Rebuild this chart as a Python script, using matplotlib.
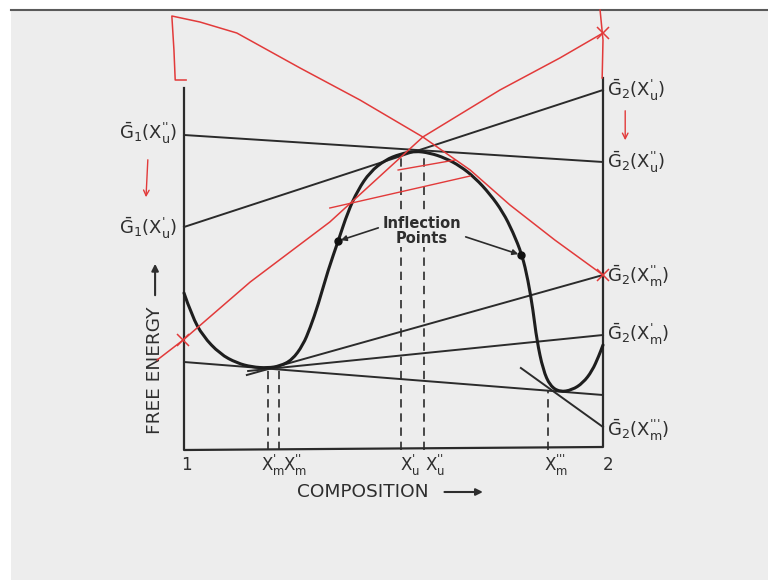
import matplotlib.pyplot as plt
from matplotlib.patches import Rectangle, PathPatch
from matplotlib.lines import Line2D
from matplotlib.path import Path

plt.rcParams['mathtext.fontset'] = 'dejavusans'
plt.rcParams['mathtext.default'] = 'regular'

# free energy curve (composition 1..2, arbitrary energy units)
comp = [1.000, 1.019, 1.045, 1.086, 1.126, 1.162, 1.200, 1.229, 1.258, 1.284,
        1.301, 1.320, 1.344, 1.368, 1.391, 1.415, 1.444, 1.480, 1.516, 1.551,
        1.587, 1.623, 1.659, 1.695, 1.730, 1.761, 1.785, 1.807, 1.821, 1.833,
        1.842, 1.857, 1.874, 1.897, 1.926, 1.952, 1.974, 1.990, 2.000]
energy = [15.7, 13.4, 11.4, 9.6, 8.7, 8.3, 8.2, 8.4, 9.0, 10.5,
          12.2, 14.5, 18.0, 20.9, 23.8, 26.0, 27.8, 29.0, 29.6, 29.9,
          29.7, 29.2, 28.4, 27.2, 25.6, 23.8, 21.8, 19.5, 17.0, 14.0,
          11.0, 8.0, 6.4, 5.8, 6.0, 6.7, 7.9, 9.4, 10.5]

# tangent lines: (x0, g0, x1, g1)
tangents = [
    (1.000, 31.5, 2.000, 28.8),   # G1(X''u) -> G2(X''u)
    (1.000, 22.3, 2.000, 36.0),   # G1(X'u)  -> G2(X'u)
    (1.000, 8.8, 2.000, 5.5),     # common tangent
    (1.153, 7.9, 2.000, 11.5),    # -> G2(X'm)
    (1.150, 7.5, 2.000, 17.5),    # -> G2(X''m)
    (1.804, 8.2, 2.000, 2.3),     # -> G2(X'''m)
]

# dashed drop lines: (composition, height)
drops = [(1.200, 8.2), (1.227, 8.4), (1.518, 29.6), (1.573, 29.9), (1.869, 6.0)]

inflections_x = [1.368, 1.804]
inflections_g = [20.9, 19.5]

P1, P2, P3 = r"\text{'}", r"\text{''}", r"\text{'''}"
left_labels = [r'$\bar{G}_1(X^{%s}_u)$' % P2, r'$\bar{G}_1(X^{%s}_u)$' % P1]
left_label_g = [31.7, 22.2]
right_labels = [r'$\bar{G}_2(X^{%s}_u)$' % P1, r'$\bar{G}_2(X^{%s}_u)$' % P2,
                r'$\bar{G}_2(X^{%s}_m)$' % P2, r'$\bar{G}_2(X^{%s}_m)$' % P1,
                r'$\bar{G}_2(X^{%s}_m)$' % P3]
right_label_g = [36.0, 28.8, 17.4, 11.6, 2.0]
tick_labels = ['1', r'$X^{%s}_m$' % P1, r'$X^{%s}_m$' % P2, r'$X^{%s}_u$' % P1,
               r'$X^{%s}_u$' % P2, r'$X^{%s}_m$' % P3, '2']
tick_x = [1.007, 1.212, 1.265, 1.539, 1.599, 1.888, 2.012]

# red pen annotations
red1_x = [1.005, 0.979, 0.976, 0.971, 1.038, 1.126, 1.277, 1.420, 1.570, 1.683, 1.778, 1.885, 2.000]
red1_g = [37.0, 37.0, 40.0, 43.4, 42.8, 41.7, 38.2, 35.0, 31.3, 28.0, 24.5, 21.0, 17.5]
red2_x = [0.936, 0.998, 1.158, 1.348, 1.570, 1.754, 1.897, 2.000]
red2_g = [9.0, 11.0, 16.8, 22.8, 31.3, 36.0, 39.2, 41.7]
red3_x = [1.993, 2.000, 1.998]
red3_g = [44.0, 41.0, 37.2]
red_marks_x = [2.000, 2.000, 0.998]
red_marks_g = [41.7, 17.5, 11.0]
red_short = [(1.348, 24.2, 1.683, 27.4), (1.511, 28.0, 1.647, 29.0)]

ink = '#2b2b2b'
txt = '#2e2e2e'
red = '#e23a3a'
bg = '#ededed'


def smooth_path(xs, ys):
    # quadratic bezier through the midpoints of the read-off points
    pts = list(zip(xs, ys))
    verts = [pts[0]]
    codes = [Path.MOVETO]
    for i in range(1, len(pts) - 1):
        mid = ((pts[i][0] + pts[i + 1][0]) / 2, (pts[i][1] + pts[i + 1][1]) / 2)
        verts += [pts[i], mid]
        codes += [Path.CURVE3, Path.CURVE3]
    verts.append(pts[-1])
    codes.append(Path.LINETO)
    return Path(verts, codes)


fig = plt.figure(figsize=(7.68, 5.8), dpi=100)
fig.patch.set_facecolor('white')
ax = fig.add_axes([0, 0, 1, 1])
ax.set_xlim(1 - 184 / 419, 1 + 584 / 419)
ax.set_ylim(-13, 45)
ax.axis('off')

ax.add_patch(Rectangle((11 / 768, 0), 1, 1 - 10 / 580, transform=ax.transAxes,
                       facecolor=bg, edgecolor='none', zorder=0))
ax.add_line(Line2D([11 / 768, 1], [1 - 10 / 580] * 2, transform=ax.transAxes,
                   color='#5a5a5a', lw=1.5, zorder=1))

# frame of the sketch
ax.plot([1, 1, 2, 2], [36.2, 0, 0.3, 37.2], color=ink, lw=1.6, zorder=3)

for x, g in drops:
    ax.plot([x, x], [0, g], color=ink, lw=1.2, ls=(0, (5, 3.5)), zorder=2)

for x0, g0, x1, g1 in tangents:
    ax.plot([x0, x1], [g0, g1], color=ink, lw=1.4, zorder=3)

ax.add_patch(PathPatch(smooth_path(comp, energy), fill=False, edgecolor='#1e1e1e',
                       lw=2.2, zorder=4, capstyle='round'))
ax.plot(inflections_x, inflections_g, 'o', color='#111111', ms=5, zorder=5)

ax.text(1.568, 21.9, 'Inflection\nPoints', ha='center', va='center', fontsize=10.5,
        fontweight='bold', color=txt, linespacing=1.0, zorder=6,
        bbox=dict(facecolor=bg, edgecolor='none', pad=1))
ax.annotate('', xy=(inflections_x[0], inflections_g[0]), xytext=(1.470, 22.3),
            arrowprops=dict(arrowstyle='-|>', color=ink, lw=1.2, mutation_scale=8), zorder=5)
ax.annotate('', xy=(inflections_x[1], inflections_g[1]), xytext=(1.666, 21.4),
            arrowprops=dict(arrowstyle='-|>', color=ink, lw=1.2, mutation_scale=8), zorder=5)

for lab, g in zip(left_labels, left_label_g):
    ax.text(0.983, g, lab, ha='right', va='center', fontsize=13, color=txt)
for lab, g in zip(right_labels, right_label_g):
    ax.text(2.010, g, lab, ha='left', va='center', fontsize=13, color=txt)
for lab, x in zip(tick_labels, tick_x):
    ax.text(x, -1.5, lab, ha='center', va='center', fontsize=12, color=txt)

ax.text(1.427, -4.2, 'COMPOSITION', ha='center', va='center', fontsize=13.3, color=txt)
ax.annotate('', xy=(1.720, -4.2), xytext=(1.615, -4.2),
            arrowprops=dict(arrowstyle='-|>', color=txt, lw=1.5, mutation_scale=10))
ax.text(0.931, 8.0, 'FREE ENERGY', ha='center', va='center', rotation=90,
        fontsize=13.3, color=txt)
ax.annotate('', xy=(0.931, 18.9), xytext=(0.931, 15.2),
            arrowprops=dict(arrowstyle='-|>', color=txt, lw=1.5, mutation_scale=10))

# red pen strokes
ax.plot(red1_x, red1_g, color=red, lw=1.1, zorder=7)
ax.plot(red2_x, red2_g, color=red, lw=1.1, zorder=7)
ax.plot(red3_x, red3_g, color=red, lw=1.1, zorder=7)
ax.plot(red_marks_x, red_marks_g, 'x', color=red, ms=9, mew=1.1, zorder=7)
for x0, g0, x1, g1 in red_short:
    ax.plot([x0, x1], [g0, g1], color=red, lw=1.0, zorder=7)
ax.annotate('', xy=(0.909, 25.0), xytext=(0.914, 29.3),
            arrowprops=dict(arrowstyle='->', color=red, lw=1.0, mutation_scale=10))
ax.annotate('', xy=(2.053, 30.7), xytext=(2.053, 34.2),
            arrowprops=dict(arrowstyle='->', color=red, lw=1.0, mutation_scale=10))

fig.savefig('out.png', dpi=100)
